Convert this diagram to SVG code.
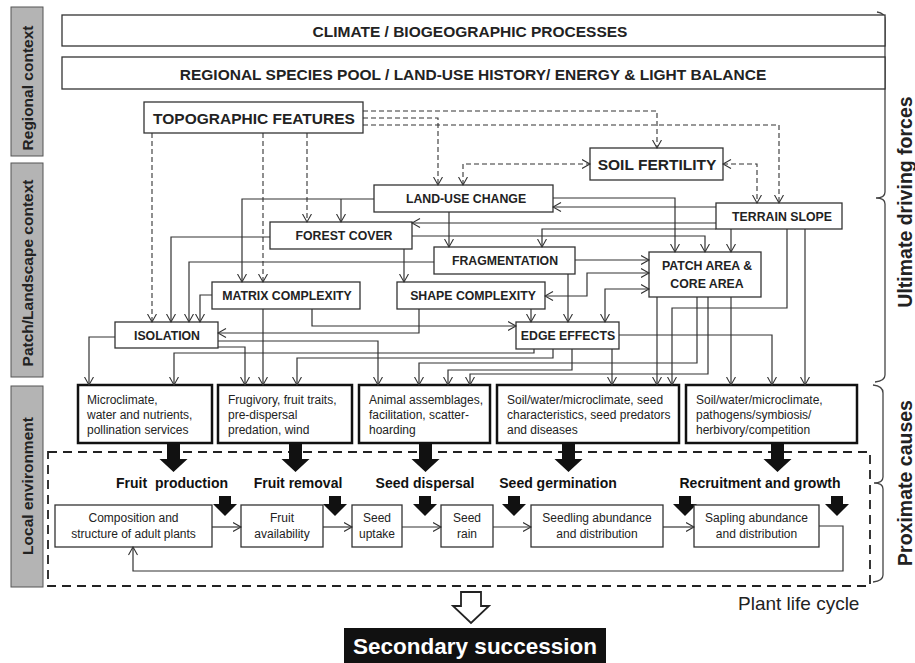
<svg xmlns="http://www.w3.org/2000/svg" width="915" height="663" viewBox="0 0 915 663">
<defs>
<marker id="ah" markerUnits="userSpaceOnUse" viewBox="0 0 10 11" markerWidth="10" markerHeight="11" refX="8.5" refY="5" orient="auto-start-reverse"><path d="M0.5,0.5 L8.5,5 L0.5,9.5" fill="none" stroke="#333" stroke-width="1.1"/></marker>
<style>
.box{fill:#fff;stroke:#333;stroke-width:1.3}
.pbox{fill:#fff;stroke:#111;stroke-width:2.5}
.gbox{fill:#b4b4b4;stroke:#555;stroke-width:1}
.lbl{font-family:"Liberation Sans",Arial,sans-serif;font-weight:bold;font-size:12.3px;fill:#222;text-anchor:middle}
.big{font-size:15.5px}
.side{font-family:"Liberation Sans",Arial,sans-serif;font-weight:bold;font-size:15.5px;fill:#222;text-anchor:middle}
.rside{font-family:"Liberation Sans",Arial,sans-serif;font-weight:bold;font-size:19.5px;fill:#222;text-anchor:middle}
.ptxt{font-family:"Liberation Sans",Arial,sans-serif;font-size:12px;fill:#222}
.ctxt{font-family:"Liberation Sans",Arial,sans-serif;font-size:12px;fill:#222;text-anchor:middle}
.stage{font-family:"Liberation Sans",Arial,sans-serif;font-weight:bold;font-size:14px;fill:#111;text-anchor:middle}
.c{fill:none;stroke:#333;stroke-width:1.2;marker-end:url(#ah)}
.d{fill:none;stroke:#333;stroke-width:1.1;stroke-dasharray:5 3;marker-end:url(#ah)}
.both{marker-start:url(#ah)}
.blk{fill:#111}
.brace{fill:none;stroke:#444;stroke-width:1.3}
</style>
</defs>
<rect x="0" y="0" width="915" height="663" fill="#fff"/>

<g id="side-labels">
<rect class="gbox" x="11" y="7" width="32" height="149"/>
<text class="side" transform="translate(33,88) rotate(-90)">Regional context</text>
<rect class="gbox" x="11" y="163" width="32" height="214"/>
<text class="side" transform="translate(33,273) rotate(-90)">Patch/Landscape context</text>
<rect class="gbox" x="11" y="386" width="32" height="201"/>
<text class="side" transform="translate(33,486) rotate(-90)">Local environment</text>
</g>

<g id="braces">
<path class="brace" d="M877,12 Q885,13 885,20 V192 Q885,198 876,198 Q885,198 885,204 V375 Q885,381 875,382"/>
<text class="rside" transform="translate(912,202) rotate(-90)">Ultimate driving forces</text>
<path class="brace" d="M873,385 Q883,386 883,393 V477 Q883,483 874,483 Q883,483 883,489 V575 Q883,581 873,582"/>
<text class="rside" transform="translate(912,483) rotate(-90)">Proximate causes</text>
</g>

<g id="climate"><rect class="box" x="62" y="15" width="823" height="31"/><text class="lbl big" x="470" y="37">CLIMATE / BIOGEOGRAPHIC PROCESSES</text></g>
<g id="regional"><rect class="box" x="62" y="57" width="823" height="32"/><text class="lbl big" x="473" y="80">REGIONAL SPECIES POOL / LAND-USE HISTORY/ ENERGY &amp; LIGHT BALANCE</text></g>
<g id="topographic"><rect class="box" x="144" y="102" width="219" height="31"/><text class="lbl" style="font-size:15.5px" x="254" y="124">TOPOGRAPHIC FEATURES</text></g>
<g id="soil-fertility"><rect class="box" x="590" y="148" width="133" height="32"/><text class="lbl" style="font-size:15.5px" x="657" y="170">SOIL FERTILITY</text></g>
<g id="land-use-change"><rect class="box" x="374" y="185" width="179" height="27"/><text class="lbl" x="466" y="203">LAND-USE CHANGE</text></g>
<g id="terrain-slope"><rect class="box" x="716" y="203" width="126" height="26"/><text class="lbl" x="782" y="220.5">TERRAIN SLOPE</text></g>
<g id="forest-cover"><rect class="box" x="270" y="222" width="142" height="27"/><text class="lbl" x="344" y="240">FOREST COVER</text></g>
<g id="fragmentation"><rect class="box" x="434" y="247" width="141" height="27"/><text class="lbl" x="505" y="265">FRAGMENTATION</text></g>
<g id="patch-area"><rect class="box" x="649" y="252" width="112" height="45"/><text class="lbl" x="707" y="270">PATCH AREA &amp;</text><text class="lbl" x="707" y="288">CORE AREA</text></g>
<g id="matrix-complexity"><rect class="box" x="212" y="282" width="148" height="27"/><text class="lbl" x="287" y="300">MATRIX COMPLEXITY</text></g>
<g id="shape-complexity"><rect class="box" x="397" y="282" width="148" height="27"/><text class="lbl" x="473" y="300">SHAPE COMPLEXITY</text></g>
<g id="isolation"><rect class="box" x="115" y="322" width="103" height="26"/><text class="lbl" x="167" y="339.5">ISOLATION</text></g>
<g id="edge-effects"><rect class="box" x="516" y="322" width="103" height="27"/><text class="lbl" x="568" y="340">EDGE EFFECTS</text></g>

<g id="prox1"><rect class="pbox" x="78" y="385" width="134" height="58"/><text class="ptxt" x="87" y="404">Microclimate,</text><text class="ptxt" x="87" y="419">water and nutrients,</text><text class="ptxt" x="87" y="434">pollination services</text></g>
<g id="prox2"><rect class="pbox" x="218" y="385" width="134" height="58"/><text class="ptxt" x="228" y="404">Frugivory, fruit traits,</text><text class="ptxt" x="228" y="419">pre-dispersal</text><text class="ptxt" x="228" y="434">predation, wind</text></g>
<g id="prox3"><rect class="pbox" x="359" y="385" width="131" height="58"/><text class="ptxt" x="369" y="404">Animal assemblages,</text><text class="ptxt" x="369" y="419">facilitation, scatter-</text><text class="ptxt" x="369" y="434">hoarding</text></g>
<g id="prox4"><rect class="pbox" x="497" y="385" width="182" height="58"/><text class="ptxt" x="507" y="404">Soil/water/microclimate, seed</text><text class="ptxt" x="507" y="419">characteristics, seed predators</text><text class="ptxt" x="507" y="434">and diseases</text></g>
<g id="prox5"><rect class="pbox" x="686" y="385" width="171" height="58"/><text class="ptxt" x="696" y="404">Soil/water/microclimate,</text><text class="ptxt" x="696" y="419">pathogens/symbiosis/</text><text class="ptxt" x="696" y="434">herbivory/competition</text></g>

<g id="life-cycle-frame">
<rect x="48" y="452" width="822" height="134" fill="none" stroke="#222" stroke-width="1.8" stroke-dasharray="9 6"/>
<text x="738" y="610" style="font-family:'Liberation Sans',Arial,sans-serif;font-size:19px;fill:#222">Plant life cycle</text>
</g>

<g id="process-arrows">
<polygon class="blk" points="167,443 180,443 180,459 187.5,459 173.5,472 159.5,459 167,459"/>
<polygon class="blk" points="289,443 302,443 302,459 309.5,459 295.5,472 281.5,459 289,459"/>
<polygon class="blk" points="419,443 432,443 432,459 439.5,459 425.5,472 411.5,459 419,459"/>
<polygon class="blk" points="562,443 575,443 575,459 582.5,459 568.5,472 554.5,459 562,459"/>
<polygon class="blk" points="771,443 784,443 784,459 791.5,459 777.5,472 763.5,459 771,459"/>
<text class="stage" x="172" y="488" xml:space="preserve">Fruit  production</text>
<text class="stage" x="298" y="488">Fruit removal</text>
<text class="stage" x="425" y="488">Seed dispersal</text>
<text class="stage" x="558" y="488">Seed germination</text>
<text class="stage" x="760" y="488">Recruitment and growth</text>
<polygon class="blk" points="219,496 231,496 231,504 237,504 225,516 213,504 219,504"/>
<polygon class="blk" points="329,496 341,496 341,504 347,504 335,516 323,504 329,504"/>
<polygon class="blk" points="419,496 431,496 431,504 437,504 425,516 413,504 419,504"/>
<polygon class="blk" points="508,496 520,496 520,504 526,504 514,516 502,504 508,504"/>
<polygon class="blk" points="679,496 691,496 691,504 697,504 685,516 673,504 679,504"/>
<polygon class="blk" points="831,496 843,496 843,504 849,504 837,516 825,504 831,504"/>
</g>

<g id="adult-plants"><rect class="box" x="55" y="505" width="157" height="42"/><text class="ctxt" x="133.5" y="522">Composition and</text><text class="ctxt" x="133.5" y="538">structure of adult plants</text></g>
<g id="fruit-availability"><rect class="box" x="241" y="505" width="82" height="42"/><text class="ctxt" x="282" y="522">Fruit</text><text class="ctxt" x="282" y="538">availability</text></g>
<g id="seed-uptake"><rect class="box" x="352" y="505" width="50" height="42"/><text class="ctxt" x="377" y="522">Seed</text><text class="ctxt" x="377" y="538">uptake</text></g>
<g id="seed-rain"><rect class="box" x="441" y="505" width="52" height="42"/><text class="ctxt" x="467" y="522">Seed</text><text class="ctxt" x="467" y="538">rain</text></g>
<g id="seedling"><rect class="box" x="531" y="505" width="132" height="42"/><text class="ctxt" x="597" y="522">Seedling abundance</text><text class="ctxt" x="597" y="538">and distribution</text></g>
<g id="sapling"><rect class="box" x="694" y="505" width="125" height="42"/><text class="ctxt" x="756.5" y="522">Sapling abundance</text><text class="ctxt" x="756.5" y="538">and distribution</text></g>

<g id="outcome">
<polygon points="461,592 481,592 481,606 489,606 471,623 453,606 461,606" fill="#fff" stroke="#222" stroke-width="1.8"/>
<rect x="344" y="628" width="262" height="35" fill="#111"/>
<text x="475" y="654" style="font-family:'Liberation Sans',Arial,sans-serif;font-weight:bold;font-size:22.5px;fill:#fff;text-anchor:middle">Secondary succession</text>
</g>

<g id="connectors">
<path class="d" d="M363,111 H657 V148"/>
<path class="d" d="M363,118 H438 V185"/>
<path class="d" d="M363,125 H779 V203"/>
<path class="d" d="M152,133 V322"/>
<path class="d" d="M263,133 V282"/>
<path class="d" d="M307,133 V222"/>
<path class="d both" d="M463,185 V164 H590"/>
<path class="d both" d="M723,164 H757 V203"/>

<path class="c" d="M374,199 H242 V282"/>
<path class="c" d="M341,199 V222"/>
<path class="c" d="M449,212 V247"/>
<path class="c" d="M553,198 H675 V252"/>
<path class="c" d="M716,207 H553"/>
<path class="c" d="M716,223 H412"/>
<path class="c" d="M716,229 H542 V247"/>
<path class="c" d="M412,236 H705 V252"/>
<path class="c" d="M731,229 V252"/>
<path class="c" d="M270,237 H171 V322"/>
<path class="c" d="M404,249 V282"/>
<path class="c" d="M434,262 H189 V322"/>
<path class="c" d="M575,260 H649"/>
<path class="c" d="M568,274 V322"/>
<path class="c both" d="M545,296 H587 V273 H649"/>
<path class="c both" d="M605,322 V289 H649"/>
<path class="c" d="M531,309 V322"/>
<path class="c" d="M419,309 V333 H218"/>
<path class="c" d="M312,309 V326 H516"/>
<path class="c" d="M212,295 H200 V322"/>
<path class="c" d="M263,309 V385"/>
<path class="c" d="M115,337 H89 V385"/>
<path class="c" d="M218,347 H245 V385"/>
<path class="c" d="M218,341 H378 V385"/>
<path class="c" d="M534,349 V353 H174 V385"/>
<path class="c" d="M553,349 V358 H297 V385"/>
<path class="c" d="M572,349 V370 H448 V385"/>
<path class="c" d="M612,349 V385"/>
<path class="c" d="M619,335 H772 V385"/>
<path class="c" d="M657,297 V385"/>
<path class="c" d="M697,297 V363 H419 V385"/>
<path class="c" d="M708,297 V374 H470 V385"/>
<path class="c" d="M731,297 V385"/>
<path class="c" d="M787,229 V308 H672 V385"/>
<path class="c" d="M805,229 V385"/>

<path class="c" d="M212,527 H241"/>
<path class="c" d="M323,527 H352"/>
<path class="c" d="M402,527 H441"/>
<path class="c" d="M493,527 H531"/>
<path class="c" d="M663,527 H694"/>
<path class="c" d="M819,526 H843 V571 H133 V547"/>
</g>
</svg>
